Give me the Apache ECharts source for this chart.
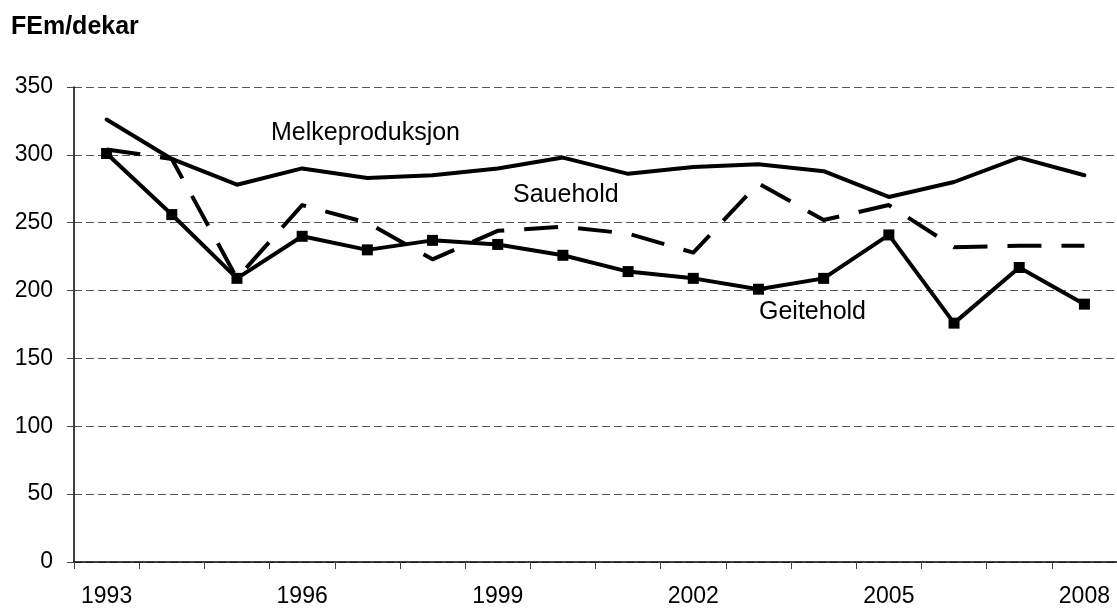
<!DOCTYPE html>
<html>
<head>
<meta charset="utf-8">
<script src="https://cdn.jsdelivr.net/npm/echarts@6/dist/echarts.min.js"></script>
<style>
html,body{margin:0;padding:0;background:#fff;}
#chart{width:1117px;height:608px;}
</style>
</head>
<body>
<div id="chart"></div>
<script>
const years = ['1993','1994','1995','1996','1997','1998','1999','2000','2001','2002','2003','2004','2005','2006','2007','2008'];
const melkeproduksjon = [326, 297, 278, 290, 283, 285, 290, 298, 286, 291, 293, 288, 269, 280, 298, 285];
const sauehold = [304, 297, 209, 263, 250, 223, 244, 247, 242, 228, 279, 252, 263, 232, 233, 233];
const geitehold = [301, 256, 209, 240, 230, 237, 234, 226, 214, 209, 201, 209, 241, 176, 217, 190];
const yTicks = {min: 0, max: 350, interval: 50};
const seriesNames = ['Melkeproduksjon', 'Sauehold', 'Geitehold'];
const unitLabel = 'FEm/dekar';

const font = '"Liberation Sans", Arial, Helvetica, sans-serif';
const chart = echarts.init(document.getElementById('chart'), null, {renderer: 'canvas'});
chart.setOption({
  animation: false,
  backgroundColor: '#fff',
  grid: {left: 74, right: 0, top: 87, bottom: 45, containLabel: false},
  xAxis: {
    type: 'category',
    data: years,
    boundaryGap: true,
    axisLine: {show: true, lineStyle: {color: '#000', width: 1.5}},
    axisTick: {show: true, interval: 0, length: 7, alignWithLabel: false, lineStyle: {color: '#444', width: 1}},
    axisLabel: {interval: 2, fontSize: 23, color: '#000', fontFamily: font, margin: 23},
    splitLine: {show: false}
  },
  yAxis: {
    type: 'value',
    min: yTicks.min, max: yTicks.max, interval: yTicks.interval,
    axisLine: {show: true, lineStyle: {color: '#000', width: 1.5}},
    axisTick: {show: true, length: 7, lineStyle: {color: '#444', width: 1}},
    axisLabel: {fontSize: 23, color: '#000', fontFamily: font, margin: 21},
    splitLine: {show: true, lineStyle: {color: '#555', width: 1, type: [8, 4]}}
  },
  series: [
    {
      name: seriesNames[0], type: 'line', data: melkeproduksjon,
      showSymbol: false, symbol: 'none',
      lineStyle: {color: '#000', width: 4, cap: 'round', join: 'round'},
      z: 3
    },
    {
      name: seriesNames[1], type: 'line', data: sauehold,
      showSymbol: false, symbol: 'none',
      lineStyle: {color: '#000', width: 4, type: [34, 20], cap: 'butt', join: 'round'},
      z: 2
    },
    {
      name: seriesNames[2], type: 'line', data: geitehold,
      symbol: 'rect', symbolSize: 11, showSymbol: true,
      itemStyle: {color: '#000', borderWidth: 0},
      lineStyle: {color: '#000', width: 4, join: 'round'},
      z: 4
    }
  ],
  graphic: [
    {type: 'text', left: 11, top: 15, style: {text: unitLabel, font: 'bold 25px ' + font, fill: '#000'}},
    {type: 'text', x: 271, y: 133, style: {text: seriesNames[0], font: '25px ' + font, fill: '#000', verticalAlign: 'middle'}},
    {type: 'text', x: 513, y: 195, style: {text: seriesNames[1], font: '25px ' + font, fill: '#000', verticalAlign: 'middle'}},
    {type: 'text', x: 759, y: 312, style: {text: seriesNames[2], font: '25px ' + font, fill: '#000', verticalAlign: 'middle'}}
  ]
});
</script>
</body>
</html>
